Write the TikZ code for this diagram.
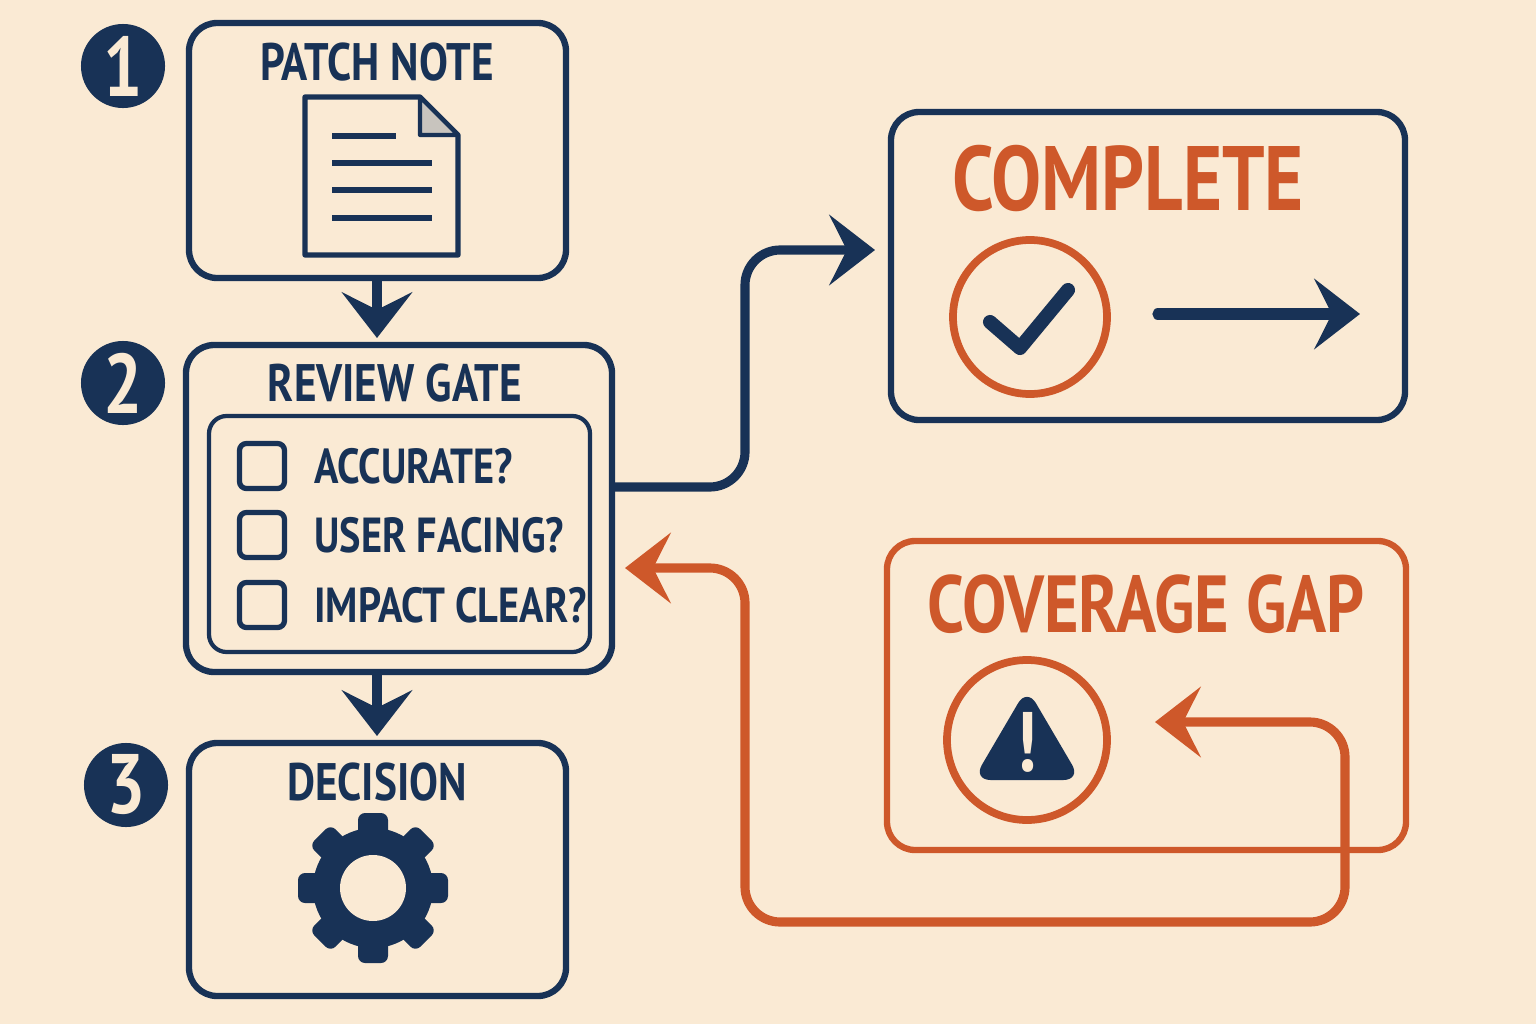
\documentclass[tikz,border=0pt]{standalone}
\usepackage{fontspec}
\setmainfont{PT Sans}[FakeStretch=0.82]
\usetikzlibrary{arrows.meta,positioning,calc}
\definecolor{bgCol}{RGB}{250,234,212}
\definecolor{navy}{RGB}{24,50,86}
\definecolor{rust}{RGB}{206,88,42}
\definecolor{foldCol}{RGB}{200,196,190}
\begin{document}
\begin{tikzpicture}[x=0.01cm, y=-0.01cm,
  every node/.style={font=\bfseries, text=navy},
  stepbox/.style={draw=navy, line width=1.8pt, rounded corners=8pt},
  numdot/.style={circle, fill=navy, minimum size=0.84cm, inner sep=0pt, text=bgCol, font=\bfseries\fontsize{24}{24}\selectfont},
  title/.style={font=\bfseries\fontsize{15}{15}\selectfont},
  bigtitle/.style={font=\bfseries\fontsize{26}{26}\selectfont, text=rust},
  checkbox/.style={draw=navy, line width=1.5pt, rounded corners=2pt, minimum size=0.45cm, inner sep=0pt},
  item/.style={font=\bfseries\fontsize{14}{14}\selectfont, anchor=west},
  tip/.style={-{Stealth[length=13pt, width=20pt, inset=5pt]}},
  connline/.style n args={1}{line width=2.6pt, color=#1, rounded corners=10pt, tip},
]
\fill[bgCol] (0,0) rectangle (1536,1024);
\useasboundingbox (0,0) rectangle (1536,1024);
% STEP 1
\node[numdot] (n1) at (123,66) {1};
\draw[stepbox] (189,23) rectangle (566,278);
\coordinate (b1s) at (377,278);
\node[title] (t1) at (377,62) {PATCH NOTE};
\filldraw[draw=navy, fill=bgCol, line width=1.5pt, line join=round]
  (305,97) -- (420,97) -- (458,135) -- (458,255) -- (305,255) -- cycle;
\filldraw[draw=navy, fill=foldCol, line width=1.2pt, line join=round] (420,97) -- (420,135) -- (458,135) -- cycle;
\foreach \y/\xe in {136/396, 163/432, 190/432, 218/432}
  \draw[navy, line width=1.5pt] (332,\y) -- (\xe,\y);
% STEP 2
\node[numdot] (n2) at (123,383) {2};
\draw[stepbox] (186,345) rectangle (612,672);
\coordinate (b2n) at (377,338);
\coordinate (b2s) at (377,672);
\coordinate (b2e) at (612,487);
\coordinate (b2r) at (625,568);
\node[title] (t2) at (395,383) {REVIEW GATE};
\draw[navy, line width=1.2pt, rounded corners=5pt] (209,416) rectangle (590,652);
\foreach \y/\txt [count=\i] in {466/ACCURATE?, 535/USER FACING?, 605/IMPACT CLEAR?} {
  \node[checkbox] (cb\i) at (262,\y) {};
  \node[item] (it\i) at (302,\y) {\txt};
}
% STEP 3
\node[numdot] (n3) at (126,785) {3};
\draw[stepbox] (189,743) rectangle (566,996);
\coordinate (b3n) at (377,736);
\node[title] (t3) at (377,782) {DECISION};
\fill[navy] (373,888) circle (60);
\foreach \a in {0,45,...,315}
  \fill[navy, rounded corners=2pt, rotate around={\a:(373,888)}] (358,813) rectangle (388,840);
\fill[bgCol] (373,888) circle (33);
% arrows down
\draw[line width=2.6pt, navy, tip] (b1s) -- (b2n);
\draw[line width=2.6pt, navy, tip] (b2s) -- (b3n);
% COMPLETE
\draw[stepbox] (891,112) rectangle (1405,420);
\coordinate (cw) at (875,250);
\node[bigtitle] (t4) at (1128,178) {COMPLETE};
\draw[rust, line width=2.2pt] (1030,317) circle (77);
\draw[navy, line width=4pt, line cap=round, line join=round] (990,322) -- (1020,348) -- (1068,290);
\coordinate (okA) at (1158,314);
\coordinate (okB) at (1360,314);
\draw[line width=3.2pt, navy, line cap=round, tip] (okA) -- (okB);
\draw[connline={navy}] (b2e) -- (745,487) -- (745,250) -- (cw);
% COVERAGE GAP
\draw[stepbox, draw=rust] (887,541) rectangle (1406,850);
\node[bigtitle, font=\bfseries\fontsize{23}{23}\selectfont] (t5) at (1146,604) {COVERAGE GAP};
\draw[rust, line width=2.2pt] (1027,740) circle (80);
\fill[navy, rounded corners=5pt] (1027,688) -- (1081,780) -- (973,780) -- cycle;
\node[text=bgCol, font=\bfseries\fontsize{24}{24}\selectfont] (ex) at (1027,742) {!};
\coordinate (gapIn) at (1155,722);
\draw[line width=2.6pt, rust, rounded corners=10pt,
  {Stealth[length=13pt, width=20pt, inset=5pt]}-{Stealth[length=13pt, width=20pt, inset=5pt]}]
  (gapIn) -- (1345,722) -- (1345,922) -- (745,922) -- (745,568) -- (b2r);
\end{tikzpicture}
\end{document}
